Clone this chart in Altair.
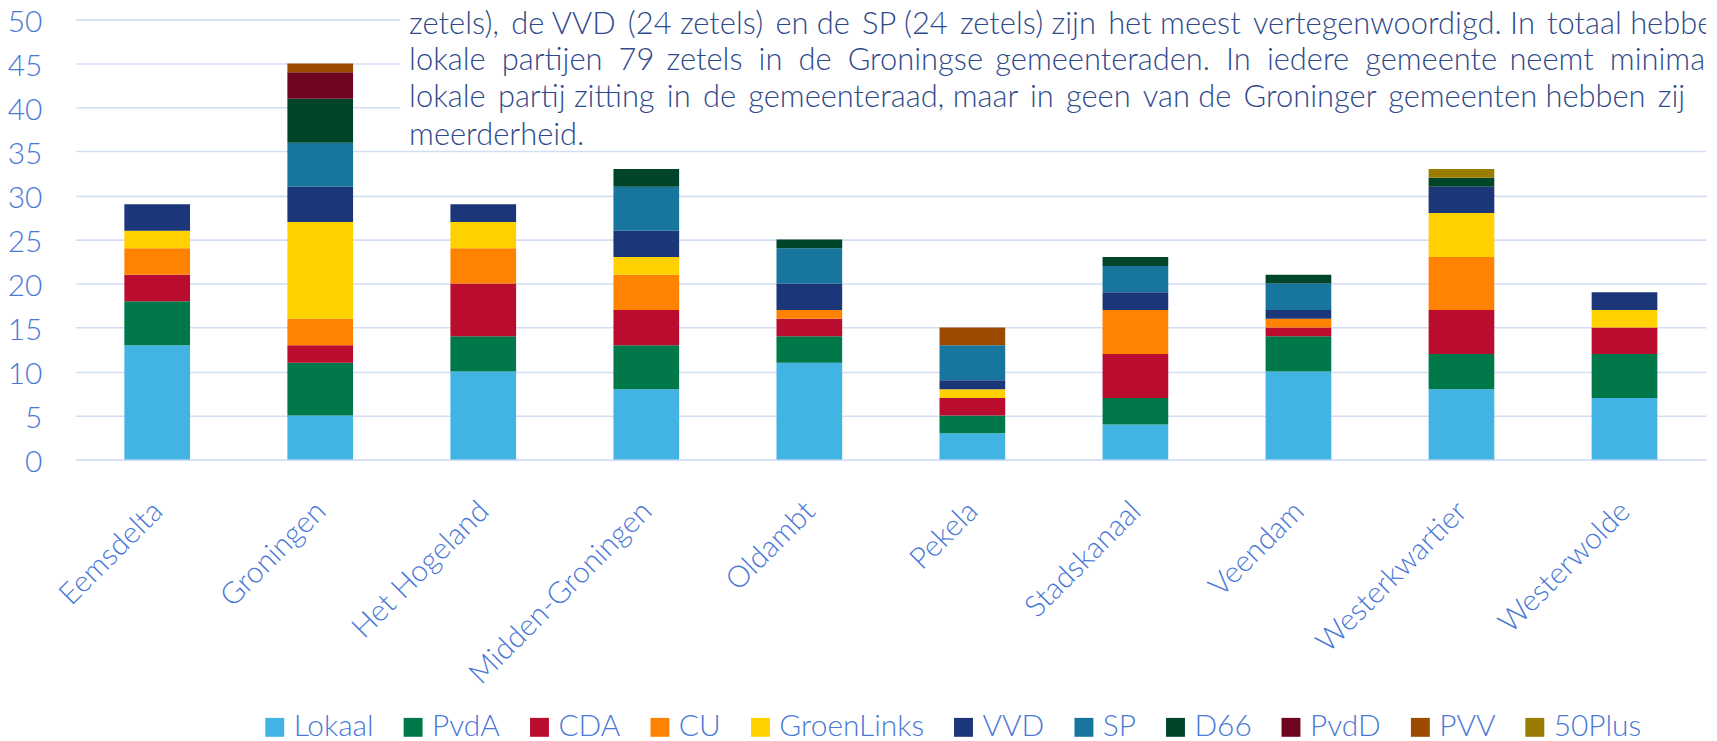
import altair as alt
import pandas as pd

gemeenten = ["Eemsdelta", "Groningen", "Het Hogeland", "Midden-Groningen", "Oldambt",
             "Pekela", "Stadskanaal", "Veendam", "Westerkwartier", "Westerwolde"]
partijen = ["Lokaal", "PvdA", "CDA", "CU", "GroenLinks", "VVD", "SP", "D66", "PvdD", "PVV", "50Plus"]
kleuren = ["#41B4E4", "#00784A", "#BA0C2F", "#FF8200", "#FFD100", "#1B3679",
           "#17759E", "#00452A", "#6F0520", "#9B4B00", "#9A7D00"]

lokaal = [13, 5, 10, 8, 11, 3, 4, 10, 8, 7]
pvda = [5, 6, 4, 5, 3, 2, 3, 4, 4, 5]
cda = [3, 2, 6, 4, 2, 2, 5, 1, 5, 3]
cu = [3, 3, 4, 4, 1, 0, 5, 1, 6, 0]
groenlinks = [2, 11, 3, 2, 0, 1, 0, 0, 5, 2]
vvd = [3, 4, 2, 3, 3, 1, 2, 1, 3, 2]
sp = [0, 5, 0, 5, 4, 4, 3, 3, 0, 0]
d66 = [0, 5, 0, 2, 1, 0, 1, 1, 1, 0]
pvdd = [0, 3, 0, 0, 0, 0, 0, 0, 0, 0]
pvv = [0, 1, 0, 0, 0, 2, 0, 0, 0, 0]
plus50 = [0, 0, 0, 0, 0, 0, 0, 0, 1, 0]

series = [lokaal, pvda, cda, cu, groenlinks, vvd, sp, d66, pvdd, pvv, plus50]

tekst_regels = [
    "zetels), de VVD (24 zetels) en de SP (24 zetels) zijn het meest vertegenwoordigd. In totaal hebben",
    "lokale partijen 79 zetels in de Groningse gemeenteraden. In iedere gemeente neemt minimaal",
    "lokale partij zitting in de gemeenteraad, maar in geen van de Groninger gemeenten hebben zij",
    "meerderheid.",
]
# average number of extra thin spaces per word gap (approximate justification)
extra_spatie = [0.53, 1.76, 0.73, 0.0]
regel_baseline = [24, 60.5, 98, 136]


def uitvullen(regel, e):
    woorden = regel.split(" ")
    uit = woorden[0]
    for i, w in enumerate(woorden[1:]):
        n = round((i + 1) * e) - round(i * e)
        uit += " " + "\u2009" * n + w
    return uit


rows = []
for pi, (p, vals) in enumerate(zip(partijen, series)):
    for g, v in zip(gemeenten, vals):
        if v > 0:
            rows.append({"gemeente": g, "partij": p, "zetels": v, "volgorde": pi})
df = pd.DataFrame(rows)

FONT = "Lato Light, Lato, sans-serif"
BLUE = "#4A78D6"
TXT = "#2F4A8A"

bars = alt.Chart(df).mark_bar(size=66).encode(
    x=alt.X("gemeente:N", sort=gemeenten, title=None,
            scale=alt.Scale(paddingInner=0.597, paddingOuter=0.2985),
            axis=alt.Axis(labelAngle=-45, labelAlign="right", labelBaseline="middle",
                          labelPadding=47, labelOffset=1, ticks=False, tickSize=0,
                          domain=False, grid=False, labelFont=FONT, labelFontWeight=300,
                          labelFontSize=30, labelColor=BLUE, labelLimit=400)),
    y=alt.Y("zetels:Q", stack="zero", title=None,
            scale=alt.Scale(domain=[0, 51.1], nice=False, zero=True),
            axis=alt.Axis(values=list(range(0, 51, 5)), grid=True, gridColor="#D3DDF3",
                          gridWidth=1.6, domain=False, ticks=False, tickSize=0,
                          labelPadding=34, labelOffset=3, labelFont=FONT, labelFontWeight=300,
                          labelFontSize=30, labelColor=BLUE)),
    color=alt.Color("partij:N", sort=partijen,
                    scale=alt.Scale(domain=partijen, range=kleuren),
                    legend=alt.Legend(title=None, orient="none", direction="horizontal",
                                      columns=11, legendX=185, legendY=706, padding=0,
                                      symbolType="square", symbolSize=361,
                                      symbolStrokeWidth=0, symbolOpacity=1,
                                      labelOffset=4, columnPadding=24,
                                      labelFont=FONT, labelFontWeight=300,
                                      labelFontSize=30, labelColor=BLUE, labelLimit=300)),
    order=alt.Order("volgorde:Q", sort="ascending"),
)

box = alt.Chart(pd.DataFrame({"a": [0]})).mark_rect(color="white").encode(
    x=alt.value(326), x2=alt.value(1640), y=alt.value(0), y2=alt.value(140)
)

layers = [bars, box]
for regel, extra, yb in zip(tekst_regels, extra_spatie, regel_baseline):
    s = uitvullen(regel, extra)
    layers.append(
        alt.Chart(pd.DataFrame({"t": [s]})).mark_text(
            align="left", baseline="alphabetic", font=FONT, fontWeight=300,
            fontSize=31, color=TXT, clip=True
        ).encode(text="t:N", x=alt.value(335), y=alt.value(yb))
    )

chart = alt.layer(*layers).properties(
    width=1638, height=452,
    padding={"left": 68, "top": 0, "right": 3, "bottom": 281},
    autosize=alt.AutoSizeParams(type="none"),
    background="white",
).configure_view(stroke=None)

chart.save("out.html", embed_options={"renderer": "svg", "actions": False})
